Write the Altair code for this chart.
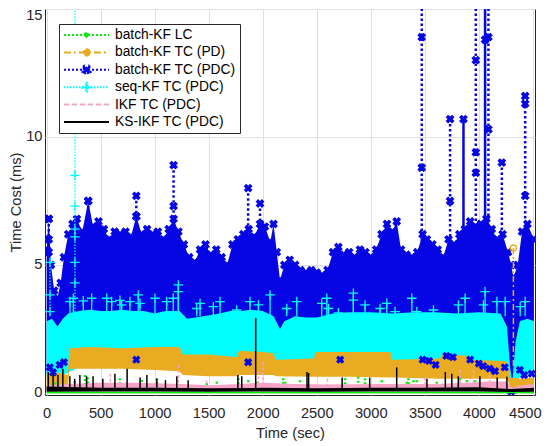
import altair as alt
import pandas as pd

FONT = "Liberation Sans"

SERIES = ["batch-KF LC", "batch-KF TC (PD)", "batch-KF TC (PDC)",
          "seq-KF TC (PDC)", "IKF TC (PDC)", "KS-IKF TC (PDC)"]
COLORS = ["#00f000", "#e9ab22", "#0606e4", "#00ffff", "#f7a3c7", "#000000"]
GREEN, ORANGE, BLUE, CYAN, PINK, BLACK = COLORS

X_TICKS = [0, 500, 1000, 1500, 2000, 2500, 3000, 3500, 4000, 4500]
Y_TICKS = [0, 5, 10, 15]

# ---------------- batch-KF TC (PDC): envelope of the dense blue trace
BLUE_T = [0, 20, 40, 70, 100, 130, 160, 200, 240, 280,
          330, 385, 430, 480, 530, 580, 630, 680, 730, 780,
          830, 880, 930, 980, 1030, 1080, 1130, 1175, 1220, 1270,
          1320, 1370, 1420, 1470, 1520, 1570, 1620, 1670, 1720, 1770,
          1820, 1870, 1920, 1975, 2020, 2070, 2100, 2130, 2160, 2200,
          2250, 2300, 2350, 2400, 2450, 2500, 2550, 2600, 2650, 2700,
          2750, 2800, 2850, 2900, 2950, 3000, 3050, 3100, 3150, 3200,
          3240, 3280, 3330, 3380, 3430, 3480, 3520, 3570, 3620, 3670,
          3720, 3770, 3820, 3870, 3920, 3970, 4020, 4070, 4120, 4170,
          4220, 4270, 4300, 4320, 4360, 4400, 4450, 4510]
BLUE_HI = [5.6, 6.8, 5.0, 4.0, 3.7, 4.3, 5.3, 6.2, 6.6, 6.8,
           6.3, 7.5, 6.5, 6.7, 6.4, 6.0, 6.3, 6.2, 6.3, 6.1,
           6.9, 6.2, 6.4, 6.2, 6.3, 6.0, 6.4, 6.8, 6.3, 5.8,
           5.3, 5.1, 5.6, 5.8, 5.4, 5.6, 5.3, 5.0, 5.8, 6.0,
           6.2, 6.4, 6.1, 6.6, 6.5, 5.9, 6.6, 5.5, 4.4, 5.0,
           5.2, 5.0, 4.8, 4.7, 4.8, 4.7, 4.6, 4.8, 5.5, 5.7,
           5.4, 5.5, 5.3, 5.6, 5.5, 5.3, 5.6, 6.2, 6.6, 6.3,
           6.7, 5.6, 5.4, 5.3, 5.5, 6.2, 6.0, 5.8, 5.6, 5.3,
           6.0, 5.8, 6.2, 6.4, 6.7, 6.5, 6.6, 6.8, 6.4, 6.0,
           6.2, 5.5, 5.0, 4.5, 5.0, 6.3, 6.6, 6.0]
BLUE_LO = [0.8, 0.6, 0.5, 0.6, 0.7, 0.6, 0.7, 1.0, 1.5, 1.5,
           1.5, 1.5, 1.5, 1.5, 1.5, 1.5, 1.5, 1.5, 1.5, 1.5,
           1.5, 1.5, 1.5, 1.5, 1.5, 1.5, 1.5, 1.5, 1.5, 1.5,
           1.5, 1.5, 1.5, 1.5, 1.5, 1.5, 1.5, 1.5, 1.5, 1.5,
           1.5, 1.5, 1.5, 1.5, 1.5, 1.5, 1.5, 1.5, 1.5, 1.5,
           1.5, 1.5, 1.5, 1.5, 1.5, 1.5, 1.5, 1.5, 1.5, 1.5,
           1.5, 1.5, 1.5, 1.5, 1.5, 1.5, 1.5, 1.5, 1.5, 1.5,
           1.5, 1.5, 1.5, 1.5, 1.5, 1.5, 1.5, 1.5, 1.5, 1.5,
           1.5, 1.5, 1.5, 1.5, 1.5, 1.5, 1.5, 1.5, 1.5, 1.5,
           1.5, 1.5, 0.5, 0.05, 0.6, 0.8, 0.9, 0.9]
BLUE_BASE = 5.0
BLUE_SPK_T = [20, 385, 830, 1175, 1865, 1975, 3472, 3734, 3972, 4089, 4213, 4429]
BLUE_SPK_V = [6.8, 7.5, 7.7, 8.9, 8.0, 7.4, 16.0, 10.7, 16.0, 16.0, 9.0, 11.6]
BLUE_SOLID_T = [3858, 4058]
BLUE_SOLID_V = [10.7, 16.0]
BLUE_MK_T = [20, 20, 20, 385, 830, 830, 1175, 1175, 1865, 1975, 3472, 3472,
             3734, 3734, 3858, 3972, 3972, 3972, 4058, 4089, 4089, 4213,
             4429, 4429, 4429]
BLUE_MK_V = [6.8, 6.0, 5.5, 7.5, 7.7, 6.9, 8.9, 7.3, 8.0, 7.4, 13.9, 8.8,
             10.7, 7.5, 10.7, 13.0, 9.4, 8.6, 13.8, 13.9, 10.3, 9.0,
             11.6, 11.3, 7.7]
BLUE_LOW_T = [30, 60, 120, 160, 830, 1865, 2717, 3480, 3540, 3600, 3700,
              3760, 3920, 4000, 4040, 4100, 4150, 4240, 4300, 4380, 4420, 4490]
BLUE_LOW_V = [1.0, 0.8, 1.1, 1.2, 1.3, 1.2, 1.3, 1.3, 1.25, 1.1, 1.45,
              1.4, 1.3, 1.15, 1.05, 0.95, 0.85, 1.0, 0.05, 0.9, 0.7, 0.75]

# ---------------- seq-KF TC (PDC): cyan trace
CYAN_T = [0, 50, 100, 150, 200, 300, 400, 500, 600, 700,
          800, 900, 1000, 1100, 1230, 1300, 1450, 1600, 1700, 1800,
          1900, 2000, 2100, 2160, 2200, 2300, 2400, 2500, 2650, 2800,
          3000, 3200, 3400, 3600, 3800, 4000, 4200, 4260, 4290, 4310,
          4340, 4380, 4450, 4510]
CYAN_HI = [2.8, 2.9, 2.6, 2.9, 3.1, 3.2, 3.25, 3.2, 3.2, 3.25,
           3.2, 3.2, 3.1, 3.2, 3.2, 2.9, 3.0, 3.1, 3.2, 3.2,
           3.25, 3.2, 3.0, 2.5, 2.8, 3.0, 2.95, 2.95, 3.1, 3.15,
           3.15, 3.1, 3.15, 3.15, 3.1, 3.15, 3.1, 2.6, 1.0, 0.4,
           2.0, 2.8, 2.9, 2.8]
CYAN_LO = [0.6, 0.6, 0.7, 0.7, 0.8, 1.0, 1.0, 1.0, 1.0, 1.0,
           1.0, 1.0, 1.0, 1.0, 1.0, 1.0, 1.0, 1.0, 1.0, 1.0,
           1.0, 1.0, 1.0, 1.0, 1.0, 1.0, 1.0, 1.0, 1.0, 1.0,
           1.0, 1.0, 1.0, 1.0, 1.0, 1.0, 1.0, 0.9, 0.4, 0.2,
           0.5, 0.6, 0.7, 0.7]
CYAN_BASE = 3.0
CYAN_SPK_T = [31, 262]
CYAN_SPK_V = [5.1, 16.0]
CYAN_SPK_MK_T = [31, 31, 31, 262, 262, 262, 262, 262, 262]
CYAN_SPK_MK_V = [5.1, 3.83, 3.18, 8.5, 7.3, 6.4, 6.1, 5.1, 4.3]
CYAN_OUT_T = [216, 247, 339, 417, 556, 602, 679, 694, 771, 848,
              864, 1003, 1111, 1172, 1219, 1219, 1389, 1420, 1543, 1605,
              1759, 1882, 1960, 2068, 2222, 2315, 2546, 2593, 2608, 2700,
              2839, 2839, 2947, 3086, 3148, 3225, 3380, 3426, 3580, 3811,
              3873, 4043, 4058, 4167, 4244, 4383, 4429]
CYAN_OUT_V = [3.57, 3.7, 3.6, 3.7, 3.7, 3.57, 3.62, 3.44, 3.57, 3.83,
              3.5, 3.7, 3.57, 3.7, 4.22, 3.96, 3.3, 3.5, 3.37, 3.57,
              3.24, 3.57, 3.44, 3.83, 3.3, 3.57, 3.5, 3.7, 3.3, 3.13,
              3.9, 3.63, 3.44, 3.3, 3.5, 3.18, 3.7, 3.18, 3.24, 3.44,
              3.7, 3.44, 3.96, 3.57, 3.57, 3.37, 3.57]

# ---------------- batch-KF TC (PD): orange trace
ORANGE_T = [0, 100, 195, 210, 400, 700, 1000, 1230, 1260, 1500,
            1760, 1780, 2000, 2100, 2120, 2470, 2490, 2800, 3180, 3200,
            3640, 3660, 3890, 3910, 4230, 4265, 4290, 4400, 4510]
ORANGE_HI = [0.75, 0.8, 0.7, 1.75, 1.8, 1.75, 1.8, 1.8, 1.5, 1.5,
             1.4, 1.65, 1.6, 1.55, 1.3, 1.35, 1.6, 1.6, 1.6, 1.3,
             1.35, 1.5, 1.45, 1.3, 1.25, 1.2, 0.6, 0.55, 0.6]
ORANGE_LO = [0.1, 0.1, 0.1, 0.95, 0.95, 0.95, 0.9, 0.85, 0.7, 0.65,
             0.65, 0.7, 0.7, 0.7, 0.65, 0.63, 0.63, 0.63, 0.6, 0.6,
             0.55, 0.55, 0.55, 0.55, 0.55, 0.55, 0.2, 0.25, 0.25]
ORANGE_BASE = 1.0
ORANGE_SPK_T = [4320]
ORANGE_SPK_V = [5.66]

# ---------------- batch-KF LC: green dots and floor line
GREEN_BASE = 0.3
GREEN_DOT_T = [80, 260, 355, 380, 463, 679, 880, 1020, 1482, 1575,
               1775, 1867, 1944, 2068, 2190, 2207, 2345, 2762, 2883, 2947,
               3102, 3333, 3349, 3395, 3426, 3611, 3827, 3889, 3966]
GREEN_DOT_V = [0.4, 0.45, 0.7, 0.6, 0.4, 0.57, 0.51, 0.57, 0.38, 0.44,
               0.57, 0.5, 0.44, 0.38, 0.57, 0.44, 0.5, 0.57, 0.63, 0.57,
               0.5, 0.44, 0.57, 0.5, 0.5, 0.44, 0.57, 0.5, 0.5]
GREEN_LINE_T = [0, 4510]
GREEN_LINE_V = [0.02, 0.02]

# ---------------- IKF TC (PDC): pink trace
PINK_T = [0, 200, 500, 800, 1000, 1260, 1500, 1800, 2000, 2300,
          2600, 3000, 3300, 3600, 3900, 4100, 4260, 4300, 4400, 4510]
PINK_HI = [0.3, 0.35, 0.4, 0.4, 0.38, 0.35, 0.3, 0.35, 0.4, 0.35,
           0.33, 0.35, 0.35, 0.35, 0.4, 0.45, 0.45, 0.2, 0.3, 0.35]
PINK_LO = [0.12, 0.12, 0.12, 0.12, 0.12, 0.12, 0.12, 0.12, 0.12, 0.12,
           0.12, 0.12, 0.12, 0.12, 0.12, 0.12, 0.12, 0.1, 0.12, 0.12]
PINK_BASE = 0.3
PINK_SPK_T = [590, 1222, 1480, 1960, 2000, 2600, 3500, 3827, 3951, 4100]
PINK_SPK_V = [0.75, 1.09, 0.5, 0.85, 1.2, 0.55, 0.6, 0.9, 0.9, 0.7]

# ---------------- KS-IKF TC (PDC): black trace
BLACK_T = [0, 500, 1000, 1500, 2000, 2500, 3000, 3500, 4000, 4300, 4510]
BLACK_HI = [0.25, 0.2, 0.2, 0.18, 0.2, 0.18, 0.2, 0.2, 0.22, 0.15, 0.2]
BLACK_LO = [0.05, 0.06, 0.06, 0.05, 0.06, 0.05, 0.06, 0.06, 0.06, 0.04, 0.05]
BLACK_BASE = 0.15
BLACK_SPK_T = [15, 60, 105, 150, 215, 260, 308, 370, 430, 520,
               632, 745, 865, 928, 1020, 1100, 1205, 1310, 1770, 1806,
               1935, 2410, 2425, 2735, 2990, 3240, 3520, 3690, 3750, 3810,
               4010, 4170, 4260]
BLACK_SPK_V = [0.82, 0.75, 0.7, 0.95, 0.65, 0.55, 0.7, 0.65, 0.65, 0.55,
               0.75, 0.95, 0.6, 0.7, 0.55, 0.5, 0.65, 0.5, 0.7, 0.65,
               2.93, 0.82, 0.78, 0.6, 0.6, 1.0, 0.55, 0.82, 0.75, 0.65,
               0.65, 0.6, 0.63]


def band(t, hi, lo):
    return pd.DataFrame({"t": t, "v": hi, "lo": lo})


def spikes(t, v, base):
    return pd.DataFrame({"t": t, "v": v, "base": [base] * len(t)})


def pts(t, v):
    return pd.DataFrame({"t": t, "v": v})


# legend symbols: a line segment plus the series marker, as one custom path
P_LINE = "M-1,0L1,0"
P_GREEN = "M-1,0L1,0M-0.08,-0.08L0.08,-0.08L0.08,0.08L-0.08,0.08Z"
P_ORANGE = ("M-1,0L1,0M0.15,0L0.106,0.106L0,0.15L-0.106,0.106L-0.15,0"
            "L-0.106,-0.106L0,-0.15L0.106,-0.106Z")
P_BLUE = ("M-1,0L1,0M0.099,-0.184L0.184,-0.099L0.085,0L0.184,0.099L0.099,0.184"
          "L0,0.085L-0.099,0.184L-0.184,0.099L-0.085,0L-0.184,-0.099"
          "L-0.099,-0.184L0,-0.085Z")
P_CYAN = "M-1,0L1,0M-0.025,-0.2L0.025,-0.2L0.025,0.2L-0.025,0.2ZM-0.2,-0.025L0.2,-0.025L0.2,0.025L-0.2,0.025Z"
LEG_PATHS = [P_GREEN, P_ORANGE, P_BLUE, P_CYAN, P_LINE, P_LINE]
LEG_DASHES = [[2, 2], [7, 3, 2, 3], [2, 2], [1.5, 1.5], [5, 3], [1, 0]]


def leg():
    return alt.Legend(
        title=None, orient="none", legendX=14, legendY=15,
        fillColor="white", strokeColor="#262626", padding=4,
        symbolSize=2025, clipHeight=14, rowPadding=3.4, symbolOpacity=1,
        symbolStrokeWidth=2, symbolFillColor="#000000", symbolStrokeColor="#000000",
        labelFont=FONT, labelFontSize=13.8, labelColor="#000000", labelOffset=5,
    )


def sc(rng):
    return alt.Scale(domain=SERIES, range=rng)


xaxis = alt.Axis(values=X_TICKS, format="d", grid=True, ticks=False, tickSize=0,
                 domain=False, labelPadding=10.5, titlePadding=5,
                 labelOffset={"condition": {"test": "datum.value === 4500", "value": -8}, "value": 0})
yaxis = alt.Axis(values=Y_TICKS, format="d", grid=True, ticks=False, tickSize=0,
                 domain=False, labelPadding=3, titlePadding=2.5,
                 labelOffset={"condition": {"test": "datum.value === 15", "value": 6}, "value": 0})
X = alt.X("t:Q", title="Time (sec)", scale=alt.Scale(domain=[-15, 4520], nice=False, zero=False), axis=xaxis)
Y = alt.Y("v:Q", title="Time Cost (ms)", scale=alt.Scale(domain=[-0.08, 15], nice=False, zero=False), axis=yaxis)


def area_layer(df, color):
    return alt.Chart(df).mark_area(color=color, opacity=1, clip=True).encode(x=X, y=Y, y2="lo:Q")


def rule_layer(df, color, **kw):
    return alt.Chart(df).mark_rule(color=color, clip=True, opacity=1, **kw).encode(x=X, y=Y, y2="base:Q")


def point_layer(df, color, **kw):
    return alt.Chart(df).mark_point(color=color, opacity=1, clip=True, **kw).encode(x=X, y=Y)


# legend carrier: the filter keeps no rows, so only its legend is drawn
legend_layer = alt.Chart(pd.DataFrame({"series": SERIES})).transform_filter("false").mark_point(
    filled=True
).encode(
    fill=alt.Fill("series:N", scale=sc(COLORS), legend=leg()),
    stroke=alt.Stroke("series:N", scale=sc(COLORS), legend=leg()),
    shape=alt.Shape("series:N", scale=sc(LEG_PATHS), legend=leg()),
    strokeDash=alt.StrokeDash("series:N", scale=sc(LEG_DASHES), legend=leg()),
)

PLUS = "M-1,0H1M0,-1V1"
layers = [
    area_layer(band(BLUE_T, BLUE_HI, BLUE_LO), BLUE),
    rule_layer(spikes(BLUE_SPK_T, BLUE_SPK_V, BLUE_BASE), BLUE, strokeWidth=2.5, strokeDash=[2.5, 2.5]),
    rule_layer(spikes(BLUE_SOLID_T, BLUE_SOLID_V, BLUE_BASE), BLUE, strokeWidth=2.5),
    point_layer(pts(BLUE_T, BLUE_HI), BLUE, shape="cross", angle=45, filled=True, size=80),
    point_layer(pts(BLUE_MK_T, BLUE_MK_V), BLUE, shape="cross", angle=45, filled=True, size=80),
    area_layer(band(CYAN_T, CYAN_HI, CYAN_LO), CYAN),
    rule_layer(spikes(CYAN_SPK_T, CYAN_SPK_V, CYAN_BASE), CYAN, strokeWidth=1.2, strokeDash=[1.5, 1.5]),
    rule_layer(spikes(CYAN_OUT_T, CYAN_OUT_V, CYAN_BASE), CYAN, strokeWidth=1.3),
    point_layer(pts(CYAN_SPK_MK_T, CYAN_SPK_MK_V), CYAN, shape=PLUS, filled=False, size=90, strokeWidth=1.3),
    point_layer(pts(CYAN_OUT_T, CYAN_OUT_V), CYAN, shape=PLUS, filled=False, size=90, strokeWidth=1.3),
    area_layer(band(ORANGE_T, ORANGE_HI, ORANGE_LO), ORANGE),
    rule_layer(spikes(ORANGE_SPK_T, ORANGE_SPK_V, ORANGE_BASE), ORANGE, strokeWidth=1.5, strokeDash=[6, 3, 2, 3]),
    point_layer(pts(ORANGE_SPK_T, ORANGE_SPK_V), ORANGE, shape="circle", filled=False, size=40, strokeWidth=1.5),
    point_layer(pts(BLUE_LOW_T, BLUE_LOW_V), BLUE, shape="cross", angle=45, filled=True, size=70),
    rule_layer(spikes(GREEN_DOT_T, GREEN_DOT_V, GREEN_BASE), GREEN, strokeWidth=2.5, strokeDash=[2, 2]),
    alt.Chart(pts(GREEN_LINE_T, GREEN_LINE_V)).mark_line(color=GREEN, strokeWidth=1.5, opacity=1, clip=True).encode(x=X, y=Y),
    area_layer(band(PINK_T, PINK_HI, PINK_LO), PINK),
    rule_layer(spikes(PINK_SPK_T, PINK_SPK_V, PINK_BASE), PINK, strokeWidth=1.5, strokeDash=[3, 2]),
    area_layer(band(BLACK_T, BLACK_HI, BLACK_LO), BLACK),
    rule_layer(spikes(BLACK_SPK_T, BLACK_SPK_V, BLACK_BASE), BLACK, strokeWidth=1.5),
    legend_layer,
]

chart = alt.layer(*layers).properties(
    width=490, height=386,
    autosize=alt.AutoSizeParams(type="none"),
    padding={"left": 37, "top": 1, "right": 7, "bottom": 51},
    background="white",
).configure_view(
    stroke="#262626", strokeWidth=1,
).configure_axis(
    labelFont=FONT, titleFont=FONT, labelFontSize=14.7, titleFontSize=14.7,
    labelColor="#262626", titleColor="#262626", titleFontWeight="normal",
    gridColor="#dfdfdf", gridWidth=1,
)

chart.save("out.html", embed_options={"renderer": "svg", "actions": False})
